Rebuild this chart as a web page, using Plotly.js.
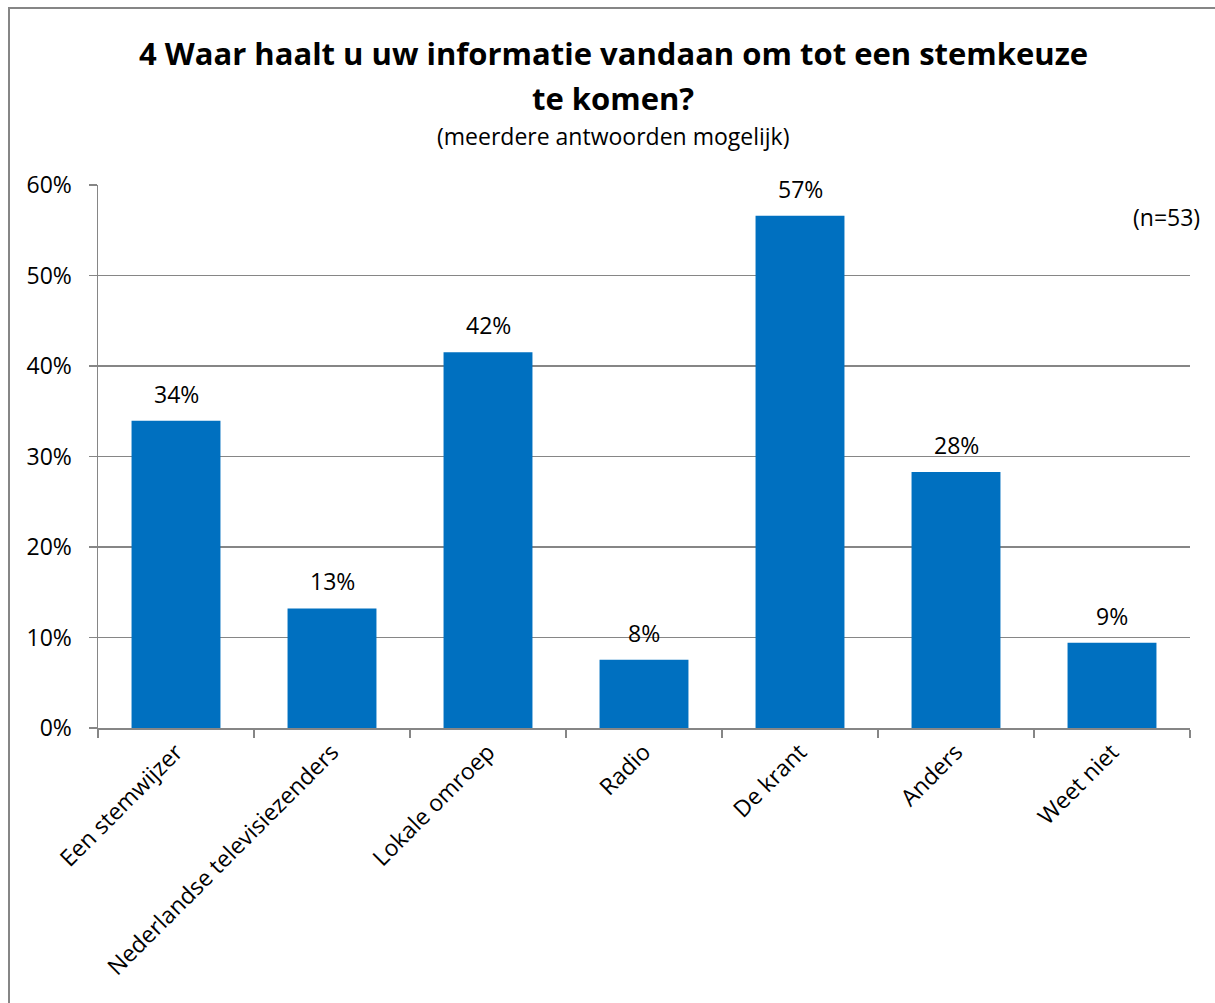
<!DOCTYPE html>
<html>
<head>
<meta charset="utf-8">
<script src="https://cdn.plot.ly/plotly-3.0.1.min.js"></script>
<style>
  html, body { margin: 0; padding: 0; background: #fff; }
  #wrap { position: relative; width: 1215px; height: 1003px; }
  #chart { width: 1215px; height: 1003px; }
  #frame { position: absolute; left: 8px; top: 7px; width: 1215px; height: 1003px; border: 2px solid #868686; box-sizing: border-box; pointer-events: none; }
</style>
</head>
<body>
<div id="wrap">
  <div id="chart"></div>
  <div id="frame"></div>
</div>
<script>
const categories = ["Een stemwijzer", "Nederlandse televisiezenders", "Lokale omroep", "Radio", "De krant", "Anders", "Weet niet"];
const values = [0.3396, 0.1321, 0.4151, 0.0755, 0.5660, 0.2830, 0.0943];
const valueLabels = ["34%", "13%", "42%", "8%", "57%", "28%", "9%"];
const titleLine1 = "4 Waar haalt u uw informatie vandaan om tot een stemkeuze";
const titleLine2 = "te komen?";
const subtitle = "(meerdere antwoorden mogelijk)";
const nLabel = "(n=53)";

const FONT = "Open Sans, sans-serif";
const FS = 23;
const titleX = (613 - 98) / 1092;

const trace = {
  type: "bar",
  x: categories,
  y: values,
  marker: { color: "#0070C0" },
  hoverinfo: "skip"
};

const annotations = categories.map((c, i) => ({
  x: c, y: values[i], xref: "x", yref: "y",
  text: valueLabels[i], showarrow: false,
  yanchor: "bottom", yshift: 9,
  font: { family: FONT, size: FS, color: "#000" }
}));

annotations.push(
  { xref: "paper", yref: "paper", x: titleX, y: 1, yshift: 132, xanchor: "center", yanchor: "middle",
    text: "<b>" + titleLine1 + "</b>", showarrow: false, font: { family: FONT, size: 31, color: "#000" } },
  { xref: "paper", yref: "paper", x: titleX, y: 1, yshift: 87, xanchor: "center", yanchor: "middle",
    text: "<b>" + titleLine2 + "</b>", showarrow: false, font: { family: FONT, size: 31, color: "#000" } },
  { xref: "paper", yref: "paper", x: titleX, y: 1, yshift: 49, xanchor: "center", yanchor: "middle",
    text: subtitle, showarrow: false, font: { family: FONT, size: FS, color: "#000" } },
  { xref: "paper", yref: "paper", x: 1, xshift: 12, y: 1, yshift: -32, xanchor: "right", yanchor: "middle",
    text: nLabel, showarrow: false, font: { family: FONT, size: FS, color: "#000" } }
);

const layout = {
  width: 1215, height: 1003,
  margin: { l: 98, r: 25, t: 185, b: 275, pad: 0 },
  paper_bgcolor: "#fff",
  plot_bgcolor: "#fff",
  showlegend: false,
  bargap: 0.43,
  font: { family: FONT, size: FS, color: "#000" },
  xaxis: {
    type: "category",
    tickangle: -45,
    ticks: "outside", ticklen: 8, tickcolor: "#868686", tickwidth: 1.5,
    tickson: "boundaries",
    showline: true, linecolor: "#868686", linewidth: 1.5,
    showgrid: false,
    automargin: false,
    tickfont: { family: FONT, size: FS, color: "#000" }
  },
  yaxis: {
    range: [0, 0.6],
    dtick: 0.1,
    tickformat: ".0%",
    ticks: "outside", ticklen: 8, tickcolor: "#868686", tickwidth: 1.5,
    showline: true, linecolor: "#868686", linewidth: 1.5,
    showgrid: true, gridcolor: "#868686", gridwidth: 1.5,
    zeroline: false,
    automargin: false,
    ticklabelstandoff: 12,
    tickfont: { family: FONT, size: FS, color: "#000" }
  },
  annotations: annotations
};

Plotly.newPlot("chart", [trace], layout, { displayModeBar: false, staticPlot: true });
</script>
</body>
</html>
